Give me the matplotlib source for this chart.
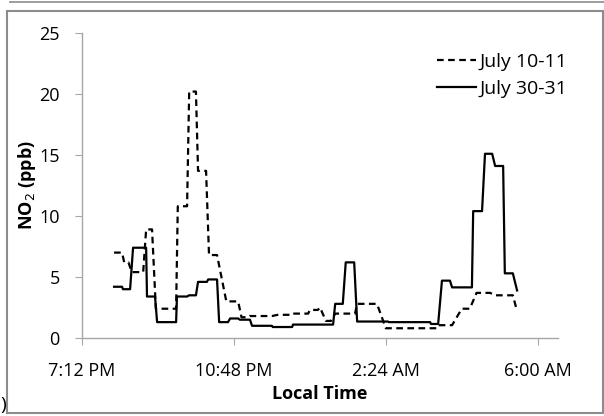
import matplotlib.pyplot as plt
from matplotlib.ticker import FuncFormatter, FixedLocator, MultipleLocator
from matplotlib.patches import Rectangle
from matplotlib.lines import Line2D

# time as hour of day (values past 24 are the next morning)
hours_jul10 = [19.96, 20.15, 20.20, 20.30, 20.38, 20.65, 20.72, 20.86, 20.95, 21.43,
               21.47, 21.69, 21.74, 21.90, 21.95, 22.14, 22.21, 22.40, 22.62, 22.90,
               22.98, 23.14, 23.18, 23.70, 23.84, 24.18, 24.20, 24.56, 24.60, 24.79,
               24.84, 24.98, 25.10, 25.20, 25.67, 25.72, 26.19, 26.40, 27.61, 27.64,
               27.97, 28.20, 28.39, 28.55, 28.87, 28.99, 29.41, 29.51]
no2_jul10 = [7.0, 7.0, 6.2, 6.2, 5.4, 5.4, 8.9, 8.9, 2.4, 2.4,
             10.8, 10.8, 20.2, 20.2, 13.7, 13.7, 6.8, 6.8, 3.0, 3.0,
             1.7, 1.7, 1.8, 1.8, 1.9, 1.9, 2.0, 2.0, 2.3, 2.3,
             2.5, 1.4, 1.4, 2.0, 2.0, 2.8, 2.8, 0.8, 0.8, 1.05,
             1.05, 2.4, 2.4, 3.7, 3.7, 3.5, 3.5, 2.2]

hours_jul30 = [19.96, 20.15, 20.17, 20.34, 20.41, 20.72, 20.74, 20.93, 20.98, 21.43,
               21.45, 21.69, 21.74, 21.90, 21.95, 22.16, 22.19, 22.40, 22.45, 22.66,
               22.71, 22.90, 22.94, 23.18, 23.23, 23.70, 23.72, 24.18, 24.20, 25.15,
               25.20, 25.38, 25.45, 25.65, 25.72, 26.45, 26.47, 27.45, 27.47, 27.64,
               27.73, 27.92, 27.97, 28.44, 28.47, 28.68, 28.75, 28.92, 28.99, 29.18,
               29.22, 29.41, 29.51]
no2_jul30 = [4.2, 4.2, 4.0, 4.0, 7.4, 7.4, 3.4, 3.4, 1.3, 1.3,
             3.4, 3.4, 3.5, 3.5, 4.6, 4.6, 4.8, 4.8, 1.3, 1.3,
             1.6, 1.6, 1.5, 1.5, 1.0, 1.0, 0.9, 0.9, 1.1, 1.1,
             2.8, 2.8, 6.2, 6.2, 1.35, 1.35, 1.3, 1.3, 1.15, 1.15,
             4.7, 4.7, 4.15, 4.15, 10.4, 10.4, 15.1, 15.1, 14.1, 14.1,
             5.3, 5.3, 3.9]

tick_hours = [19.2, 22.8, 26.4, 30.0]


def clock_label(h, pos):
    total = int(round(h * 60)) % (24 * 60)
    hh, mm = divmod(total, 60)
    ampm = "AM" if hh < 12 else "PM"
    h12 = hh % 12
    if h12 == 0:
        h12 = 12
    return f"{h12}:{mm:02d} {ampm}"


plt.rcParams['font.family'] = ['Open Sans', 'DejaVu Sans']

fig = plt.figure(figsize=(6.04, 4.16), dpi=100)
# grey frame of the original figure panel
fig.patches.append(Rectangle((7 / 604, 3 / 416), 596 / 604, 402 / 416,
                             transform=fig.transFigure, fill=False,
                             edgecolor='#8c8c8c', linewidth=1.5))
fig.lines.append(Line2D([10 / 604, 1], [1 - 1.5 / 416, 1 - 1.5 / 416],
                        transform=fig.transFigure, color='#8c8c8c', lw=1.2))
fig.text(0.0, 1 - 405 / 416, ")", fontsize=14, ha='left', va='center')

ax = fig.add_axes([82 / 604, 1 - 338 / 416, 476 / 604, 305 / 416])
ax.plot(hours_jul10, no2_jul10, color='black', lw=1.6, ls=(0, (3, 2)),
        label='July 10-11')
ax.plot(hours_jul30, no2_jul30, color='black', lw=1.6, label='July 30-31')

ax.set_xlim(19.2, 30.48)
ax.set_ylim(0, 25)
ax.xaxis.set_major_locator(FixedLocator(tick_hours))
ax.xaxis.set_major_formatter(FuncFormatter(clock_label))
ax.yaxis.set_major_locator(MultipleLocator(5))

for side in ['top', 'right']:
    ax.spines[side].set_visible(False)
for side in ['left', 'bottom']:
    ax.spines[side].set_color('#a6a6a6')
    ax.spines[side].set_linewidth(1)
ax.tick_params(axis='both', colors='#a6a6a6', length=5, labelsize=13,
               labelcolor='black')
ax.tick_params(axis='y', pad=11)
ax.tick_params(axis='x', pad=12)

ax.set_xlabel('Local Time', fontsize=13, fontweight='bold', labelpad=4)
ax.set_ylabel('NO$_2$ (ppb)', fontsize=13, fontweight='bold', labelpad=1)

ax.legend(loc='upper left', bbox_to_anchor=(0.745, 0.935), frameon=False,
          fontsize=14, handlelength=2.05, handletextpad=0.15, labelspacing=0.45,
          borderaxespad=0, borderpad=0)

fig.savefig('out.png', dpi=100)
